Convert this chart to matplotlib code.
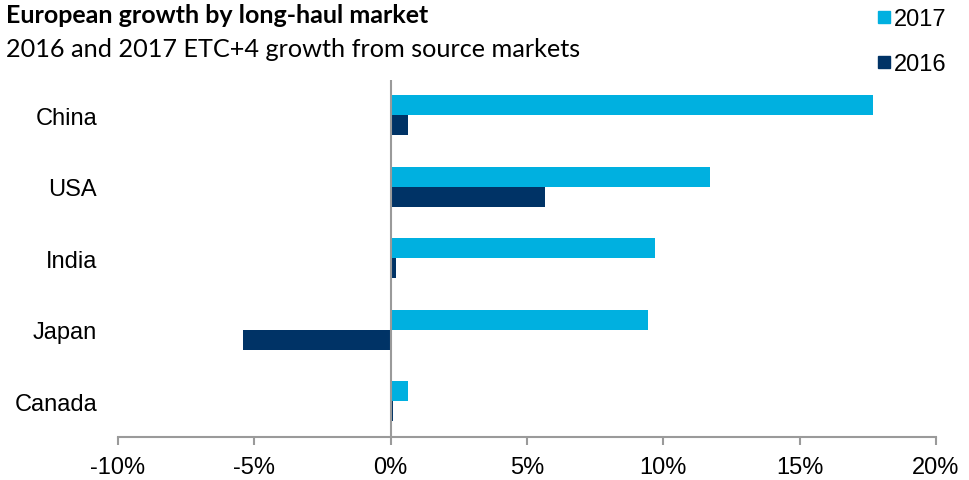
import matplotlib
matplotlib.use("Agg")
import matplotlib.pyplot as plt
import numpy as np
from matplotlib.lines import Line2D
from matplotlib.ticker import FuncFormatter

markets = ["China", "USA", "India", "Japan", "Canada"]
growth_2017 = [17.7, 11.7, 9.7, 9.45, 0.62]
growth_2016 = [0.62, 5.65, 0.2, -5.4, 0.1]
x_ticks = [-10, -5, 0, 5, 10, 15, 20]

c2017 = "#00B0E0"
c2016 = "#003366"
grey = "#9A9A9A"

plt.rcParams["font.family"] = ["Liberation Sans", "DejaVu Sans"]

fig = plt.figure(figsize=(9.7, 4.81), dpi=100)
ax = fig.add_axes([0.1216, 0.0894, 0.8433, 0.7432])

y = np.arange(len(markets))
h = 0.28
ax.barh(y - h / 2, growth_2017, height=h, color=c2017, label="2017", zorder=2)
ax.barh(y + h / 2, growth_2016, height=h, color=c2016, label="2016", zorder=2)

ax.set_xlim(x_ticks[0], x_ticks[-1])
ax.set_ylim(len(markets) - 0.5, -0.5)
ax.axvline(0, color=grey, lw=1.5, zorder=3)

for s in ["top", "right", "left"]:
    ax.spines[s].set_visible(False)
ax.spines["bottom"].set_color(grey)
ax.spines["bottom"].set_linewidth(1.5)

ax.set_xticks(x_ticks)
ax.xaxis.set_major_formatter(FuncFormatter(lambda v, p: f"{v:.0f}%"))
ax.tick_params(axis="x", direction="out", length=6, width=1.5, color=grey,
               labelsize=17, pad=8)
ax.set_yticks(y)
ax.set_yticklabels(markets)
ax.tick_params(axis="y", length=0, labelsize=17, pad=15)

fig.text(0.006, 0.952, "European growth by long-haul market", family=["Lato", "DejaVu Sans"],
         fontweight="bold", fontsize=18, ha="left", va="baseline")
fig.text(0.006, 0.882, "2016 and 2017 ETC+4 growth from source markets",
         family=["Lato", "DejaVu Sans"], fontsize=18.2, ha="left", va="baseline")

handles = [Line2D([], [], marker="s", ls="none", color=c2017, markersize=8),
           Line2D([], [], marker="s", ls="none", color=c2016, markersize=8)]
fig.legend(handles, ["2017", "2016"], loc="upper left", bbox_to_anchor=(0.894, 1.0),
           frameon=False, fontsize=17, handlelength=0.6, handletextpad=0.15,
           labelspacing=0.95, borderaxespad=0)

fig.savefig("out.png", dpi=100, facecolor="white")
